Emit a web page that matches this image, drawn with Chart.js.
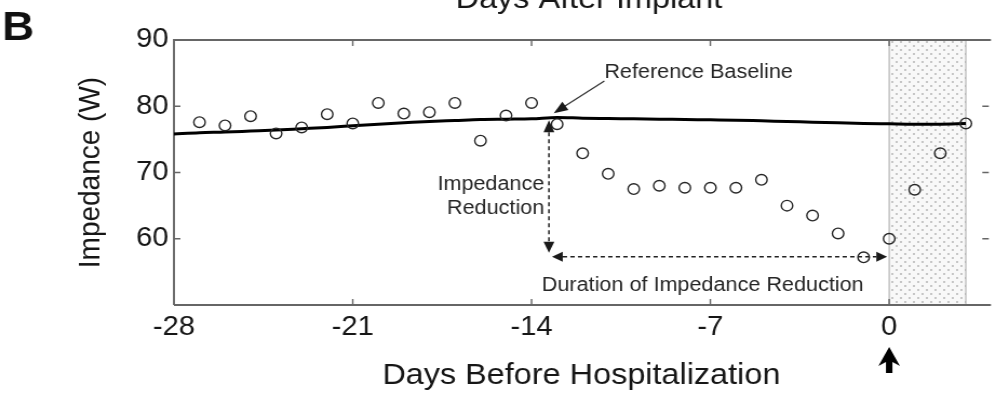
<!DOCTYPE html>
<html>
<head>
<meta charset="utf-8">
<script src="https://cdn.jsdelivr.net/npm/chart.js@4/dist/chart.umd.min.js"></script>
<style>
  html, body { margin: 0; padding: 0; background: #fff; overflow: hidden; }
  /* the figure is set slightly wide, as in the printed panel */
  #wrap { position: absolute; left: 0; top: 0; width: 922px; height: 395px;
          transform: scaleX(1.0803); transform-origin: 0 0; }
</style>
</head>
<body>
<div id="wrap"><canvas id="c"></canvas></div>
<script>
// Axis ticks
const dayTicks = [-28, -21, -14, -7, 0];
const impedanceTicks = [60, 70, 80, 90];

// Daily intrathoracic impedance measurements (ohms)
const measuredDays = [-27, -26, -25, -24, -23, -22, -21, -20, -19, -18, -17, -16, -15, -14,
                      -13, -12, -11, -10, -9, -8, -7, -6, -5, -4, -3, -2, -1, 0, 1, 2, 3];
const measuredImpedance = [77.6, 77.1, 78.5, 75.9, 76.8, 78.8, 77.4, 80.5, 78.9, 79.1, 80.5, 74.8, 78.6, 80.5,
                           77.3, 72.9, 69.8, 67.5, 68.0, 67.7, 67.7, 67.7, 68.9, 65.0, 63.5, 60.8, 57.2, 60.0, 67.4, 72.9, 77.4];

// Reference baseline curve (ohms)
const baselineDays = [-28, -27, -26, -25, -24, -23, -22, -21, -20, -19, -18, -17, -16, -15, -14, -13,
                      -12, -11, -10, -9, -8, -7, -6, -5, -4, -3, -2, -1, 0, 1, 2, 3];
const baselineImpedance = [75.8, 76.0, 76.1, 76.25, 76.4, 76.6, 76.8, 77.05, 77.3, 77.5, 77.7, 77.85, 78.0, 78.05, 78.1, 78.3,
                           78.2, 78.15, 78.1, 78.05, 78.0, 77.95, 77.9, 77.8, 77.7, 77.6, 77.5, 77.4, 77.35, 77.3, 77.3, 77.4];

// Hospitalization day and the shaded window that follows it
const hospitalizationDay = 0;
const shadedWindow = [0, 3];

const FONT = '"Liberation Sans", Arial, Helvetica, sans-serif';
const INK = '#161616';

// Annotation anchors, in data units (day, ohms)
const notes = {
  refLabel:  { day: -11.15, value: 84.2, text: 'Reference Baseline' },
  refArrow:  { from: [-11.15, 83.8], to: [-13.13, 78.95] },
  dropLabel: { day: -13.5, values: [67.4, 63.8], lines: ['Impedance', 'Reduction'] },
  dropArrow: { day: -13.32, from: 77.9, to: 57.9 },
  spanArrow: { value: 57.3, from: -13.2, to: -0.08 },
  spanLabel: { day: -7.3, value: 52.1, text: 'Duration of Impedance Reduction' }
};

function dotPattern(ctx) {
  const p = document.createElement('canvas');
  p.width = 8; p.height = 8;
  const g = p.getContext('2d');
  g.fillStyle = '#f8f8f8';
  g.fillRect(0, 0, 8, 8);
  g.fillStyle = '#b9b9b9';
  [[2, 2], [6, 6]].forEach(([cx, cy]) => {
    g.beginPath(); g.arc(cx, cy, 1.05, 0, Math.PI * 2); g.fill();
  });
  return ctx.createPattern(p, 'repeat');
}

function arrowHead(ctx, tipX, tipY, angle, len, half) {
  ctx.save();
  ctx.translate(tipX, tipY);
  ctx.rotate(angle);
  ctx.beginPath();
  ctx.moveTo(0, 0);
  ctx.lineTo(-len, -half);
  ctx.lineTo(-len, half);
  ctx.closePath();
  ctx.fill();
  ctx.restore();
}

const decor = {
  id: 'decor',
  beforeDatasetsDraw(chart) {
    const { ctx, chartArea: a, scales: { x, y } } = chart;
    ctx.save();
    // shaded window after hospitalization
    const x0 = x.getPixelForValue(shadedWindow[0]);
    const x1 = x.getPixelForValue(shadedWindow[1]);
    ctx.fillStyle = dotPattern(ctx);
    ctx.fillRect(x0, a.top, x1 - x0, a.bottom - a.top);
    ctx.strokeStyle = '#a8a8a8';
    ctx.lineWidth = 1;
    [x0, x1].forEach(px => {
      ctx.beginPath(); ctx.moveTo(px, a.top); ctx.lineTo(px, a.bottom); ctx.stroke();
    });

    // axes box with inward ticks
    ctx.strokeStyle = '#666';
    ctx.lineWidth = 1.9;
    ctx.beginPath();
    ctx.moveTo(a.left, a.bottom); ctx.lineTo(a.left, a.top); ctx.lineTo(a.right + 2, a.top);
    ctx.moveTo(a.left, a.bottom); ctx.lineTo(a.right + 2, a.bottom);
    ctx.stroke();
    ctx.lineWidth = 1.4;
    ctx.beginPath();
    dayTicks.forEach(d => {
      const px = x.getPixelForValue(d);
      if (px <= a.left + 1) return;
      ctx.moveTo(px, a.bottom); ctx.lineTo(px, a.bottom - 6);
      ctx.moveTo(px, a.top); ctx.lineTo(px, a.top + 6);
    });
    impedanceTicks.forEach(v => {
      const py = y.getPixelForValue(v);
      if (py <= a.top + 1) return;
      ctx.moveTo(a.left, py); ctx.lineTo(a.left + 6, py);
      ctx.moveTo(a.right, py); ctx.lineTo(a.right - 6, py);
    });
    ctx.stroke();
    ctx.restore();
  },
  afterDatasetsDraw(chart) {
    const { ctx, scales: { x, y } } = chart;
    ctx.save();
    ctx.font = '20px ' + FONT;
    ctx.fillStyle = '#262626';
    ctx.textBaseline = 'alphabetic';

    // "Reference Baseline" label and pointer
    ctx.textAlign = 'left';
    ctx.fillText(notes.refLabel.text, x.getPixelForValue(notes.refLabel.day), y.getPixelForValue(notes.refLabel.value));
    const fx = x.getPixelForValue(notes.refArrow.from[0]), fy = y.getPixelForValue(notes.refArrow.from[1]);
    const tx = x.getPixelForValue(notes.refArrow.to[0]),   ty = y.getPixelForValue(notes.refArrow.to[1]);
    const ang = Math.atan2(ty - fy, tx - fx);
    ctx.strokeStyle = '#333';
    ctx.lineWidth = 1.3;
    ctx.beginPath(); ctx.moveTo(fx, fy); ctx.lineTo(tx - Math.cos(ang) * 10, ty - Math.sin(ang) * 10); ctx.stroke();
    ctx.fillStyle = '#1a1a1a';
    arrowHead(ctx, tx, ty, ang, 13, 5);

    // "Impedance Reduction" label
    ctx.fillStyle = '#262626';
    ctx.textAlign = 'right';
    notes.dropLabel.lines.forEach((t, i) => {
      ctx.fillText(t, x.getPixelForValue(notes.dropLabel.day), y.getPixelForValue(notes.dropLabel.values[i]));
    });

    // vertical double arrow: size of the drop
    ctx.fillStyle = '#1a1a1a';
    ctx.strokeStyle = '#222';
    ctx.lineWidth = 1.5;
    ctx.setLineDash([4, 3]);
    const vx = x.getPixelForValue(notes.dropArrow.day);
    const vTop = y.getPixelForValue(notes.dropArrow.from);
    const vBot = y.getPixelForValue(notes.dropArrow.to);
    ctx.beginPath(); ctx.moveTo(vx, vTop + 12); ctx.lineTo(vx, vBot - 10); ctx.stroke();
    // horizontal double arrow: how long it lasted
    const hy = y.getPixelForValue(notes.spanArrow.value);
    const hL = x.getPixelForValue(notes.spanArrow.from);
    const hR = x.getPixelForValue(notes.spanArrow.to);
    ctx.beginPath(); ctx.moveTo(hL + 10, hy); ctx.lineTo(hR - 10, hy); ctx.stroke();
    ctx.setLineDash([]);
    arrowHead(ctx, vx, vTop, -Math.PI / 2, 12, 5);
    arrowHead(ctx, vx, vBot, Math.PI / 2, 11, 5);
    arrowHead(ctx, hL, hy, Math.PI, 10, 5);
    arrowHead(ctx, hR, hy, 0, 10, 5);

    // duration label
    ctx.fillStyle = '#262626';
    ctx.textAlign = 'center';
    ctx.fillText(notes.spanLabel.text, x.getPixelForValue(notes.spanLabel.day), y.getPixelForValue(notes.spanLabel.value));
    ctx.restore();
  },
  afterDraw(chart) {
    const { ctx, chartArea: a, scales: { x } } = chart;
    ctx.save();
    // panel letter
    ctx.fillStyle = '#111';
    ctx.font = 'bold 41px ' + FONT;
    ctx.textAlign = 'left';
    ctx.textBaseline = 'alphabetic';
    ctx.fillText('B', 2, 40);
    // secondary axis caption along the top edge
    ctx.fillStyle = INK;
    ctx.font = '30px ' + FONT;
    ctx.textAlign = 'center';
    ctx.fillText('Days After Implant', (a.left + a.right) / 2 + 7, 8);
    // marker for the hospitalization day
    const cx = x.getPixelForValue(hospitalizationDay);
    const top = a.bottom + 42;
    ctx.fillStyle = '#000';
    ctx.beginPath();
    ctx.moveTo(cx, top);
    ctx.lineTo(cx + 10, top + 19);
    ctx.lineTo(cx + 3, top + 15);
    ctx.lineTo(cx + 3, top + 26);
    ctx.lineTo(cx - 3, top + 26);
    ctx.lineTo(cx - 3, top + 15);
    ctx.lineTo(cx - 10, top + 19);
    ctx.closePath();
    ctx.fill();
    ctx.restore();
  }
};

new Chart(document.getElementById('c'), {
  type: 'scatter',
  data: {
    datasets: [
      {
        label: 'Impedance',
        data: measuredDays.map((d, i) => ({ x: d, y: measuredImpedance[i] })),
        pointStyle: 'circle',
        pointRadius: 5.3,
        pointBorderWidth: 1.4,
        pointBorderColor: '#262626',
        pointBackgroundColor: 'rgba(0,0,0,0)',
        showLine: false
      },
      {
        label: 'Reference Baseline',
        data: baselineDays.map((d, i) => ({ x: d, y: baselineImpedance[i] })),
        showLine: true,
        borderColor: '#000',
        borderWidth: 3,
        pointRadius: 0,
        tension: 0.3,
        cubicInterpolationMode: 'monotone',
        fill: false
      }
    ]
  },
  options: {
    responsive: true,
    maintainAspectRatio: false,
    animation: false,
    devicePixelRatio: 1,
    events: [],
    layout: { padding: { left: 0, right: 0, top: 40, bottom: 0 } },
    plugins: { legend: { display: false }, tooltip: { enabled: false } },
    scales: {
      x: {
        type: 'linear',
        min: -28,
        max: 3.9,
        afterBuildTicks: s => { s.ticks = dayTicks.map(v => ({ value: v })); },
        afterFit: s => { s.height = 90; },
        grid: { display: false, drawTicks: false },
        border: { display: false },
        ticks: { font: { family: FONT, size: 27 }, color: INK, padding: 6, maxRotation: 0, autoSkip: false },
        title: { display: true, text: 'Days Before Hospitalization', color: INK,
                 font: { family: FONT, size: 30 }, padding: { top: 0, bottom: 1 } }
      },
      y: {
        type: 'linear',
        min: 50,
        max: 90,
        afterBuildTicks: s => { s.ticks = impedanceTicks.map(v => ({ value: v })); },
        afterFit: s => { s.width = 161; },
        grid: { display: false, drawTicks: false },
        border: { display: false },
        ticks: { font: { family: FONT, size: 27 }, color: INK, padding: 5 },
        title: { display: true, text: 'Impedance (W)', color: INK,
                 font: { family: FONT, size: 28 }, padding: { top: 67.5, bottom: 0 } }
      }
    }
  },
  plugins: [decor]
});
</script>
</body>
</html>
